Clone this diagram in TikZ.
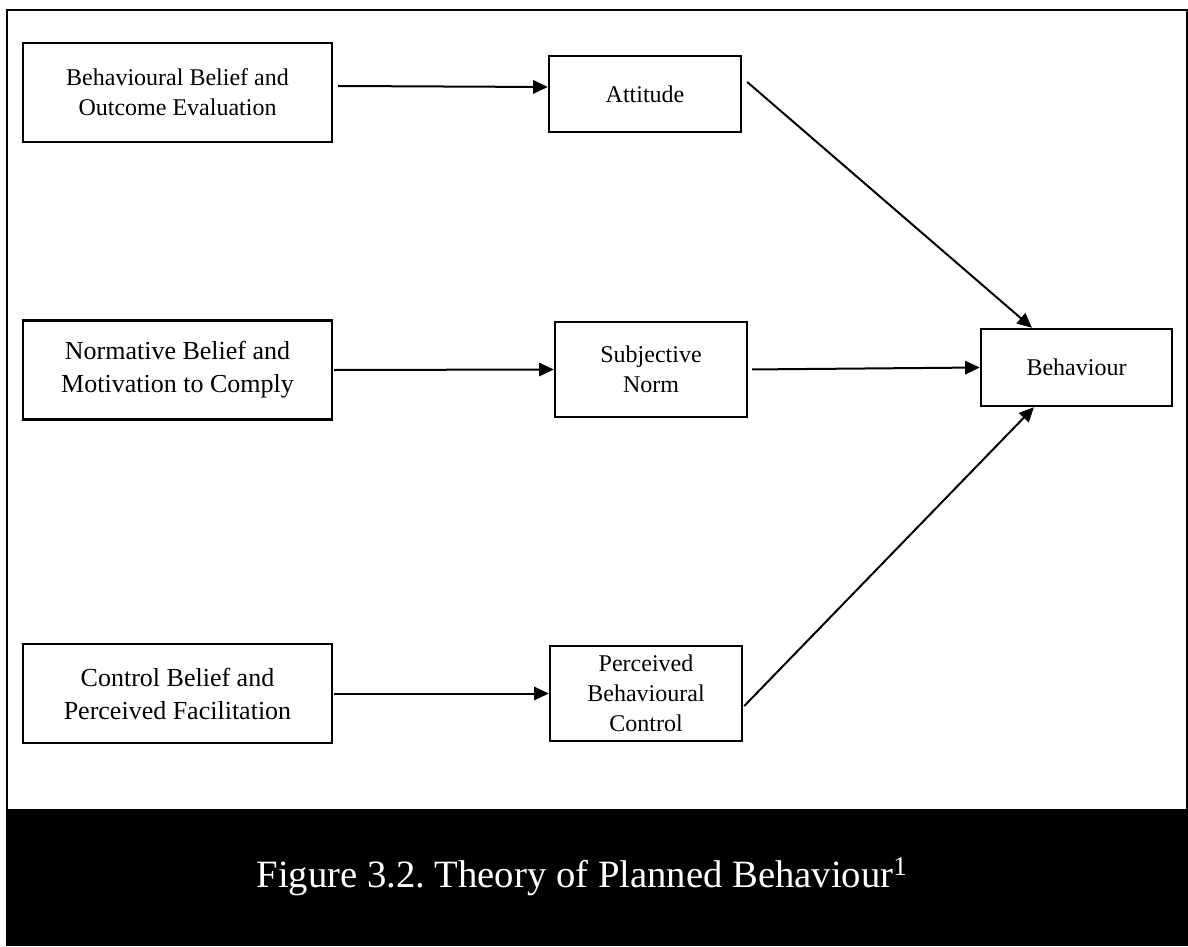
\documentclass[tikz,border=0pt]{standalone}
\usepackage{fontspec}
\setmainfont{Liberation Serif}
\usetikzlibrary{arrows.meta}
\frenchspacing
\begin{document}
\begin{tikzpicture}[x=0.75pt,y=-0.75pt,
  box/.style={draw,line width=1.8pt,rectangle,inner sep=0pt,align=center,
              font=\fontsize{18}{22.5}\selectfont},
  bigbox/.style={box,minimum width=231.75pt,minimum height=74pt},
  smallbox/.style={box,minimum width=144pt},
  link/.style={line width=1.5pt,-{Triangle[length=11pt,width=10pt]}},
  frameline/.style={line width=1.8pt}]
\useasboundingbox (0,0) rectangle (1188,946);
% outer frame and caption band
\draw[frameline] (7,809) -- (7,10) -- (1187,10) -- (1187,809);
\fill[black] (6,809) rectangle (1188,946);
\node[text=white,font=\fontsize{29}{34}\selectfont] (cap) at (582,877)
  {Figure 3.2. Theory of Planned Behaviour\textsuperscript{1}};
% belief boxes
\node[bigbox] (bbo) at (177.5,92.5) {Behavioural Belief and\\Outcome Evaluation};
\node[bigbox,font=\fontsize{19.5}{24.75}\selectfont] (nbm) at (177.5,370)
  {Normative Belief and\\Motivation to Comply};
\node[bigbox,font=\fontsize{19.5}{24.75}\selectfont] (cbp) at (177.5,693.5)
  {Control Belief and\\Perceived Facilitation};
% construct boxes
\node[smallbox,minimum height=57pt] (att) at (645,94) {Attitude};
\node[smallbox,minimum height=71.25pt] (sn) at (651,369.5) {Subjective\\Norm};
\node[smallbox,minimum height=71.25pt] (pbc) at (646,693.5) {Perceived\\Behavioural\\Control};
\node[box,minimum width=143.25pt,minimum height=57.75pt] (beh) at (1076.5,367.5) {Behaviour};
% connectors
\draw[link,shorten <=3.75pt] ([yshift=4.9pt]bbo.east) -- ([yshift=5.25pt]att.west);
\draw[link,shorten <=0.75pt] (nbm.east) -- (sn.west);
\draw[link,shorten <=0.75pt] (cbp.east) -- (pbc.west);
\draw[link,shorten <=3pt] (sn.east) -- (beh.west);
\draw[link] ([xshift=3.75pt,yshift=9pt]att.east) -- ([xshift=-33.4pt]beh.north);
\draw[link] ([xshift=0.75pt,yshift=-9.4pt]pbc.east) -- ([xshift=-31.9pt]beh.south);
\end{tikzpicture}
\end{document}
